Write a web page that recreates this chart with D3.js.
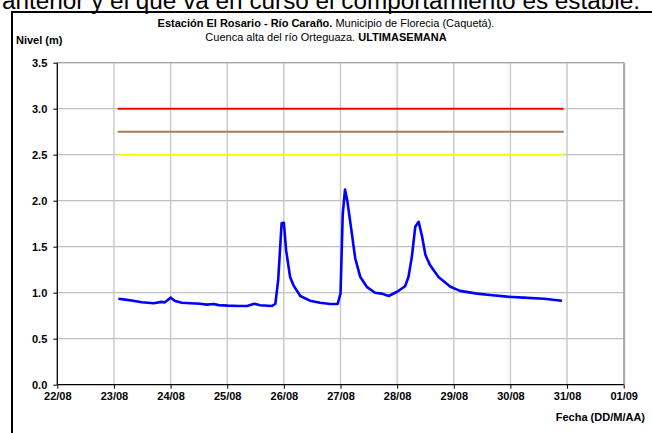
<!DOCTYPE html>
<html><head><meta charset="utf-8">
<script src="https://cdn.jsdelivr.net/npm/d3@7"></script>
<style>body{margin:0;background:#fff;overflow:hidden}svg{display:block}text{font-family:"Liberation Sans",Arial,sans-serif}</style>
</head><body><svg id="c" width="652" height="433"></svg>
<script>
const dayLabels = ["22/08","23/08","24/08","25/08","26/08","27/08","28/08","29/08","30/08","31/08","01/09"];
const yTicks = [0,0.5,1.0,1.5,2.0,2.5,3.0,3.5];
// time in days since 22/08 00:00
const times = [1.078,1.20,1.34,1.49,1.60,1.70,1.84,1.90,1.95,2.00,2.08,2.20,2.35,2.52,2.64,2.76,2.85,3.01,3.20,3.35,3.48,3.58,3.79,3.85,3.90,3.96,4.00,4.04,4.11,4.17,4.29,4.46,4.64,4.82,4.95,5.00,5.04,5.08,5.12,5.20,5.26,5.35,5.47,5.61,5.73,5.85,6.00,6.14,6.20,6.26,6.32,6.38,6.44,6.50,6.58,6.73,6.94,7.11,7.41,7.64,7.94,8.23,8.59,8.91];
const levels = [0.935,0.925,0.913,0.896,0.89,0.885,0.90,0.895,0.92,0.946,0.91,0.89,0.885,0.88,0.87,0.877,0.865,0.859,0.856,0.855,0.88,0.863,0.855,0.88,1.14,1.754,1.76,1.46,1.17,1.08,0.964,0.913,0.89,0.877,0.877,0.99,1.86,2.12,2.0,1.645,1.374,1.17,1.06,1.00,0.99,0.964,1.01,1.07,1.17,1.39,1.717,1.77,1.61,1.41,1.30,1.17,1.065,1.02,0.99,0.975,0.957,0.946,0.935,0.913];
const thresholdValues = [3.0,2.75,2.5];
const thresholdColors = ["#ff0000","#a57c55","#ffff00"];
const thresholdSpan = [1.067,8.94];

const svg = d3.select("#c");
const L=57.3, R=623.7, T=62.7, B=384.7;
const x = d3.scaleLinear().domain([0,10]).range([L,R]);
const y = d3.scaleLinear().domain([0,3.5]).range([B,T]);

// clipped document text above
svg.append("text").attr("x",2).attr("y",9).attr("font-size",23)
  .attr("textLength",638).attr("lengthAdjust","spacingAndGlyphs")
  .text("anterior y el que va en curso el comportamiento es estable.");

// frame (left and top edges only visible)
svg.append("line").attr("x1",12).attr("x2",652).attr("y1",12).attr("y2",12).attr("stroke","#000").attr("stroke-width",2);
svg.append("line").attr("x1",12).attr("x2",12).attr("y1",11).attr("y2",433).attr("stroke","#000").attr("stroke-width",2);

// grid
const g = svg.append("g");
g.selectAll("line.h").data(yTicks.slice(1)).join("line")
  .attr("x1",L).attr("x2",R).attr("y1",d=>y(d)).attr("y2",d=>y(d))
  .attr("stroke","#c0c0c0").attr("stroke-width",1.2);
g.selectAll("line.v").data(d3.range(1,11)).join("line")
  .attr("x1",d=>x(d)).attr("x2",d=>x(d)).attr("y1",T).attr("y2",B)
  .attr("stroke","#c8c8c8").attr("stroke-width",1.4);
// plot border right
svg.append("line").attr("x1",R+0.5).attr("x2",R+0.5).attr("y1",T).attr("y2",B)
  .attr("stroke","#a8a8a8").attr("stroke-width",2);

// thresholds
svg.selectAll("line.th").data(thresholdValues).join("line")
  .attr("x1",x(thresholdSpan[0])).attr("x2",x(thresholdSpan[1]))
  .attr("y1",d=>y(d)).attr("y2",d=>y(d))
  .attr("stroke",(d,i)=>thresholdColors[i]).attr("stroke-width",2);

// series
const pts = times.map((t,i)=>[t,levels[i]]);
svg.append("path").datum(pts)
  .attr("d",d3.line().x(d=>x(d[0])).y(d=>y(d[1])))
  .attr("fill","none").attr("stroke","#0000ff").attr("stroke-width",2.6)
  .attr("stroke-linejoin","round");

// axes
const yAxis = d3.axisLeft(y).tickValues(yTicks).tickFormat(d3.format(".1f")).tickSize(4).tickPadding(6);
const ya = svg.append("g").attr("transform",`translate(${L},0)`).call(yAxis);
const xAxis = d3.axisBottom(x).tickValues(d3.range(0,11)).tickFormat(i=>dayLabels[i]).tickSize(4).tickPadding(4);
const xa = svg.append("g").attr("transform",`translate(0,${B})`).call(xAxis);
[ya,xa].forEach(a=>{
  a.select(".domain").attr("stroke","#000").attr("stroke-width",1.3);
  a.selectAll(".tick line").attr("stroke","#000");
  a.selectAll("text").attr("font-size",11).attr("font-weight","bold").attr("fill","#000")
   .style("font-family",'"Liberation Sans",Arial,sans-serif');
});
ya.select(".domain").attr("d",`M0,${B}V${T}`);
xa.select(".domain").attr("d",`M${L},0H${R}`);

// top border of plot
svg.append("line").attr("x1",L).attr("x2",R).attr("y1",T).attr("y2",T)
  .attr("stroke","#a8a8a8").attr("stroke-width",1.3);

// titles
const t1 = svg.append("text").attr("x",326).attr("y",27).attr("text-anchor","middle").attr("font-size",11);
t1.append("tspan").attr("font-weight","bold").text("Estación El Rosario - Río Caraño.");
t1.append("tspan").text(" Municipio de Florecia (Caquetá).");
const t2 = svg.append("text").attr("x",326).attr("y",41).attr("text-anchor","middle").attr("font-size",11);
t2.append("tspan").text("Cuenca alta del río Orteguaza. ");
t2.append("tspan").attr("font-weight","bold").text("ULTIMASEMANA");

svg.append("text").attr("x",16).attr("y",44).attr("font-size",11).attr("font-weight","bold").text("Nivel (m)");
svg.append("text").attr("x",645).attr("y",421).attr("text-anchor","end").attr("font-size",11).attr("font-weight","bold").text("Fecha (DD/M/AA)");
</script></body></html>
